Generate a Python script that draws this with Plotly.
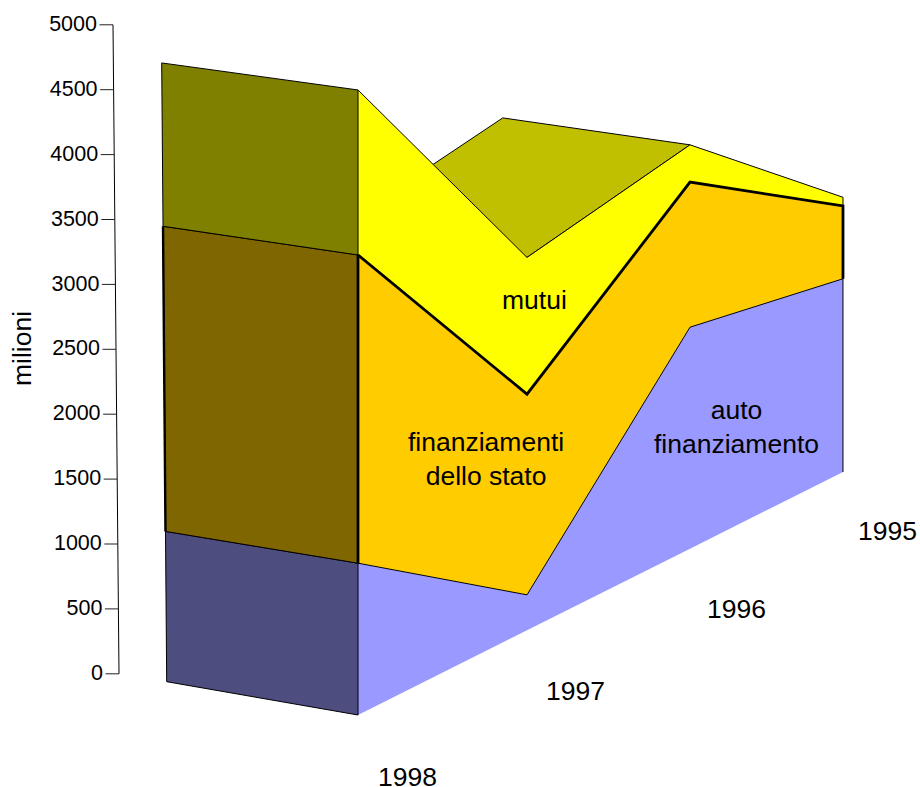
import plotly.graph_objects as go

# ---- data (stacked increments, milioni), front to back
years = ["1998", "1997", "1996", "1995"]
auto_fin = [1150, 275, 1755, 1565]
stato = [2335, 1555, 1150, 590]
mutui = [1250, 1060, 295, 70]
tick_values = [0, 500, 1000, 1500, 2000, 2500, 3000, 3500, 4000, 4500, 5000]

# ---- colours
BLUE, ORANGE, YELLOW = "#9999ff", "#ffcc00", "#ffff00"
D_BLUE, D_ORANGE, D_YELLOW = "#4d4d80", "#806600", "#808000"
RAMP = "#c0c000"
FONT = "Liberation Sans"


# ---- oblique projection of (year index, depth 0/1, value) to the page
def project(i, d, v):
    x = 358 + 172 * i - 3 * i**2 - 0.67 * i * (i - 1) * (i - 2)
    base = 715 - 0.501 * (x - 358)
    scale = 0.132 / (1 + 0.023 * i)
    if d:
        x += (-191.3 - 5 * v / 4735) * (1 - 0.019 * i)
        base += -33.3 * (1 - 0.035 * i)
        scale *= 0.99
    return x, base - v * scale


def axis_xy(v):
    return 119 - 6 * v / 5000, 673.8 - 0.1298 * v


n = len(years)
lvl0 = [0] * n
lvl1 = list(auto_fin)
lvl2 = [a + s for a, s in zip(lvl1, stato)]
lvl3 = [a + s for a, s in zip(lvl2, mutui)]


def line(level, d=0):
    return [project(i, d, level[i]) for i in range(n)]


fig = go.Figure()


def poly(pts, fill=None, color="black", width=1.0, closed=False):
    pts = list(pts)
    if closed:
        pts = pts + [pts[0]]
    fig.add_trace(go.Scatter(
        x=[p[0] for p in pts], y=[p[1] for p in pts],
        mode="lines" if width else "none",
        fill="toself" if fill else None, fillcolor=fill,
        line=dict(color=color, width=width or 0, shape="linear"),
        hoverinfo="skip", showlegend=False))


# top surface of the ramp rising from 1997 to 1996
poly([project(1, 0, lvl3[1]), project(2, 0, lvl3[2]),
      project(2, 1, lvl3[2]), project(1, 1, lvl3[1])], fill=RAMP, closed=True)

# front faces
poly(line(lvl3) + line(lvl2)[::-1], fill=YELLOW, width=0, closed=True)
poly(line(lvl2) + line(lvl1)[::-1], fill=ORANGE, width=0, closed=True)
poly(line(lvl1) + line(lvl0)[::-1], fill=BLUE, width=0, closed=True)
poly(line(lvl3))
poly(line(lvl1))
poly([project(3, 0, lvl3[3]), project(3, 0, lvl0[3])])

# end face of 1998
for low, high, col in [(lvl0, lvl1, D_BLUE), (lvl1, lvl2, D_ORANGE), (lvl2, lvl3, D_YELLOW)]:
    poly([project(0, 0, low[0]), project(0, 0, high[0]),
          project(0, 1, high[0]), project(0, 1, low[0])], fill=col, closed=True)

# heavy outline of the state-funding band
poly([project(0, 1, lvl1[0]), project(0, 1, lvl2[0])], width=2.4)
poly([project(0, 0, lvl1[0]), project(0, 0, lvl2[0])] + line(lvl2)[1:] +
     [project(3, 0, lvl1[3])], width=2.8)

# value axis
poly([axis_xy(tick_values[0]), axis_xy(tick_values[-1])])
for t in tick_values:
    ax, ay = axis_xy(t)
    poly([(ax - 13.5, ay), (ax, ay)], color="#222222")
fig.add_trace(go.Scatter(
    x=[axis_xy(t)[0] - 16 for t in tick_values], y=[axis_xy(t)[1] + 0.8 for t in tick_values],
    mode="text", text=[str(t) for t in tick_values], textposition="middle left",
    textfont=dict(family=FONT, size=21.5, color="black"),
    hoverinfo="skip", showlegend=False))

# year labels along the depth axis
for i, yr in enumerate(years):
    bx, by = project(i, 0, 0)
    fig.add_annotation(x=bx + 49.5 - 1.5 * i, y=by + 61.5 - 0.7 * i, text=yr, showarrow=False,
                       xanchor="center", yanchor="middle",
                       font=dict(family=FONT, size=26.5, color="black"))

# band labels
for txt, lx, ly in [("mutui", 534, 300),
                    ("finanziamenti<br>dello stato", 486, 458.5),
                    ("auto<br>finanziamento", 736, 426.5)]:
    fig.add_annotation(x=lx, y=ly, text=txt, showarrow=False, xanchor="center", yanchor="middle",
                       align="center", font=dict(family=FONT, size=26.5, color="black"))

fig.add_annotation(x=22, y=349, text="milioni", showarrow=False, textangle=-90,
                   xanchor="center", yanchor="middle",
                   font=dict(family=FONT, size=26.5, color="black"))

fig.update_layout(
    width=920, height=787, autosize=False,
    margin=dict(l=0, r=0, t=0, b=0),
    paper_bgcolor="white", plot_bgcolor="white", showlegend=False,
    xaxis=dict(range=[0, 920], visible=False, fixedrange=True),
    yaxis=dict(range=[787, 0], visible=False, fixedrange=True),
)
fig.write_html("out.html", config=dict(displayModeBar=False),
               post_script="document.body.style.margin='0';document.body.style.overflow='hidden';")
